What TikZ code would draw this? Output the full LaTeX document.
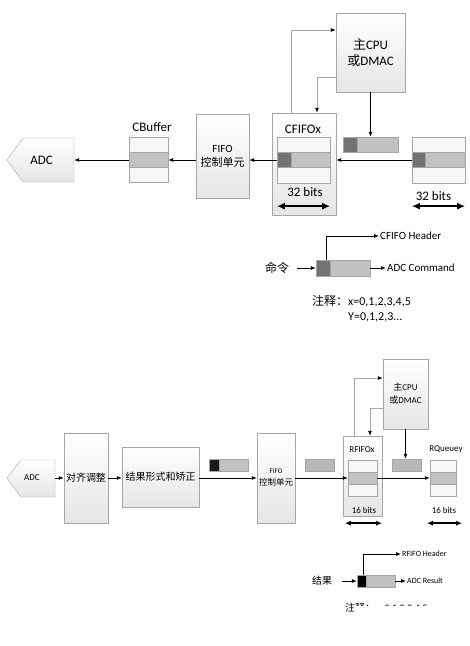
\documentclass[tikz,border=0pt]{standalone}
\usepackage{fontspec}
\setmainfont{Carlito}
\newfontfamily\cjk{Noto Sans CJK SC}
\usetikzlibrary{arrows.meta}
\newcommand{\zh}[1]{{\cjk #1}}
\begin{document}
\begin{tikzpicture}[x=1pt,y=-1pt,
  block node/.style={draw=black!35,top color=white,bottom color=black!10,inner sep=0pt,align=center},
  cell node/.style={draw=black!35,fill=black!3,inner sep=0pt},
  mid node/.style={cell node,fill=black!24},
  dark node/.style={draw=black!35,fill=black!55,inner sep=0pt,anchor=west},
  word node/.style={inner sep=1pt},
  row32/.style={minimum width=53,minimum height=15.3},
  row16/.style={minimum height=12},
  flow/.style={-{Latex[length=5pt,width=4pt]},black,line width=0.8pt},
  back/.style={draw=black!35,line width=0.8pt,-{Latex[length=5pt,width=4pt,color=black]}},
  span/.style={{Latex[length=8pt,width=7pt]}-{Latex[length=8pt,width=7pt]},line width=1.8pt},
  small span/.style={{Latex[length=6pt,width=5pt]}-{Latex[length=6pt,width=5pt]},line width=1.5pt},
  f13/.style={font=\fontsize{13}{15.5}\selectfont},
  f12/.style={font=\fontsize{12}{14}\selectfont},
  f11/.style={font=\fontsize{11}{14}\selectfont},
  f10/.style={font=\fontsize{10}{12}\selectfont},
  f9/.style={font=\fontsize{9}{13}\selectfont},
  f8/.style={font=\fontsize{8}{10}\selectfont}]
\useasboundingbox (0,0) rectangle (470,646);
%%% upper part
\node[block node,f13,minimum width=69,minimum height=79] (cpu1) at (370.5,52.5) {\zh{主}CPU\\\zh{或}DMAC};%cpu
\node[block node,minimum width=64,minimum height=102] (cfifo) at (304,164) {};%CFIFOx
\node[word node,f13] (cfl) at (303,129) {CFIFOx};
\node[cell node,row32] (cft) at (303.5,144.7) {};
\node[mid node,row32] (cfm) at (303.5,160) {};
\node[cell node,row32] (cfb) at (303.5,175.3) {};
\node[dark node,minimum width=14,minimum height=15.3] (cfd) at (cfm.west) {};
\node[word node,f13] (cfw) at (305,192) {32 bits};
\node[block node,f11,minimum width=53,minimum height=84] (fifo1) at (222.5,156) {FIFO\\\zh{控制单元}};%fifo
\node[word node,f13] (cbl) at (152,127) {CBuffer};%cbuffer
\node[cell node,minimum width=39,minimum height=15] (cbt) at (148.5,145) {};
\node[mid node,minimum width=39,minimum height=15] (cbm) at (148.5,160) {};
\node[cell node,minimum width=39,minimum height=15] (cbb) at (148.5,175) {};
\draw[block node] (7,160) -- (23,138) -- (74,138) -- (74,182) -- (23,182) -- cycle;
\node[word node,f13,minimum width=65,minimum height=44] (adc1) at (41.5,160) {ADC};%adc
\node[cell node,row32] (rrt) at (438.5,144.7) {};%next command
\node[mid node,row32] (rrm) at (438.5,160) {};
\node[cell node,row32] (rrb) at (438.5,175.3) {};
\node[dark node,minimum width=13,minimum height=15.3] (rrd) at (rrm.west) {};
\node[word node,f13] (rrw) at (433.5,196) {32 bits};
\node[mid node,minimum width=55,minimum height=15] (cmd) at (370.5,144.5) {};
\node[dark node,minimum width=14,minimum height=15] (cmdd) at (cmd.west) {};
%\node[] () at (,) {};
\draw[flow] (rrm.west) -- (rrm.west -| cfifo.east);
\draw[flow] (cfm.west) -- (cfm.west -| fifo1.east);
\draw[flow] (cbm.east -| fifo1.west) -- (cbm.east);
\draw[flow] (cbm.west) -- (adc1.east);
\draw[flow] (cpu1) -- (cmd);
\draw[back] ([xshift=-13pt]cfifo.north) |- ([yshift=22.5pt]cpu1.west);
\draw[back] ([yshift=-24.5pt]cpu1.west) -| ([xshift=13pt]cfifo.north);
\draw[span] ([yshift=-23pt]cfb.south west) -- ([yshift=-23pt]cfb.south east);
\draw[span] ([yshift=-23pt]rrb.south west) -- ([yshift=-23pt]rrb.south east);
%%% legend 1
\node[word node,f12,inner xsep=8pt] (cmdl) at (277,268) {\zh{命令}};
\node[mid node,minimum width=54,minimum height=16] (lreg) at (343,268) {};
\node[dark node,minimum width=14,minimum height=16] (lregd) at (lreg.west) {};
\node[word node,f11,anchor=west] (hdr1) at (379,236) {CFIFO Header};
\node[word node,f11,anchor=west] (cmd1) at (386,268) {ADC Command};
\draw[flow] (cmdl) -- (lreg);
\draw[flow] ([xshift=-17pt]lreg.north) |- (hdr1.west);
\draw[flow] (lreg.east) -- (cmd1.west);
\node[word node,f12,anchor=west] (nt1) at (311,301) {\zh{注释：}x=0,1,2,3,4,5};
\node[word node,f12,anchor=west] (nt2) at (347,317) {Y=0,1,2,3...};
%%% lower part
\node[block node,f9,minimum width=45,minimum height=70] (cpu2) at (405.5,394) {\zh{主}CPU\\\zh{或}DMAC};%cpu
\node[block node,minimum width=39,minimum height=80] (rfifo) at (362.5,476) {};%RFIFOx
\node[word node,f9] (rfl) at (362,450) {RFIFOx};
\node[cell node,row16,minimum width=29] (rft) at (362.5,466) {};
\node[mid node,row16,minimum width=29] (rfm) at (362.5,478) {};
\node[cell node,row16,minimum width=29] (rfb) at (362.5,490) {};
\node[word node,f9] (rfw) at (364,510) {16 bits};
\node[word node,f9] (rql) at (446,449) {RQueuey};%rqueue
\node[cell node,row16,minimum width=26] (rqt) at (443,466) {};
\node[mid node,row16,minimum width=26] (rqm) at (443,478) {};
\node[cell node,row16,minimum width=26] (rqb) at (443,490) {};
\node[word node,f9] (rqw) at (444,510) {16 bits};
\node[cell node,fill=black!28,row16,minimum width=29] (gb2) at (406.5,465) {};
\node[cell node,fill=black!28,row16,minimum width=29] (gb1) at (319.5,465) {};
\node[block node,minimum width=38,minimum height=90] (fifo2) at (276,478) {{\fontsize{7}{10}\selectfont FIFO}\\{\fontsize{8.5}{11}\selectfont\zh{控制单元}}};%fifo
\node[mid node,row16,minimum width=39] (rg3) at (228.5,465) {};
\node[dark node,fill=black!90,row16,minimum width=10] (rg3d) at (rg3.west) {};
\node[block node,f10,minimum width=77,minimum height=60] (res) at (160.5,477) {\zh{结果形式和矫正}};
\node[block node,f10,minimum width=44,minimum height=90] (algn) at (86,478) {\zh{对齐调整}};
\draw[block node] (7,478) -- (21,460) -- (55,460) -- (55,497) -- (21,497) -- cycle;
\node[word node,f9,minimum width=46,minimum height=37] (adc2) at (32,478) {ADC};%adc
\draw[flow] (adc2) -- (algn);
\draw[flow] (algn.east) -- (algn.east -| res.west);
\draw[flow] (res.east |- fifo2.west) -- (fifo2.west);
\draw[flow] (fifo2.east) -- (fifo2.east -| rfm.west);
\draw[flow] (rfm.east) -- (rfm.east -| rqm.west);
\draw[flow] (cpu2.south) -- (cpu2.south |- gb2.north);
\draw[back] ([xshift=-8.5pt]rfifo.north) |- ([yshift=16pt]cpu2.west);
\draw[back] ([yshift=-14pt]cpu2.west) -| ([xshift=7.5pt]rfifo.north);
\draw[small span] ([xshift=-3pt,yshift=-27pt]rfb.south west) -- ([xshift=5pt,yshift=-27pt]rfb.south east);
\draw[small span] ([xshift=-3pt,yshift=-27pt]rqb.south west) -- ([xshift=6pt,yshift=-27pt]rqb.south east);
%%% legend 2
\node[word node,f10,inner xsep=10pt] (resl) at (322,581) {\zh{结果}};
\node[mid node,row16,minimum width=38] (lreg2) at (376,581) {};
\node[dark node,fill=black,row16,minimum width=9] (lreg2d) at (lreg2.west) {};
\node[word node,f8,anchor=west] (hdr2) at (401,554) {RFIFO Header};
\node[word node,f8,anchor=west] (res2) at (406,581) {ADC Result};
\draw[flow] (resl) -- (lreg2);
\draw[flow] ([xshift=-13pt]lreg2.north) |- (hdr2.west);
\draw[flow] (lreg2.east) -- (res2.west);
\begin{scope}
\clip (340,590) rectangle (353,616) (353,590) rectangle (470,605);
\node[word node,f10,anchor=west] (nt3) at (344,608) {\zh{注释：}x=0,1,2,3,4,5};
\end{scope}
\end{tikzpicture}
\end{document}
